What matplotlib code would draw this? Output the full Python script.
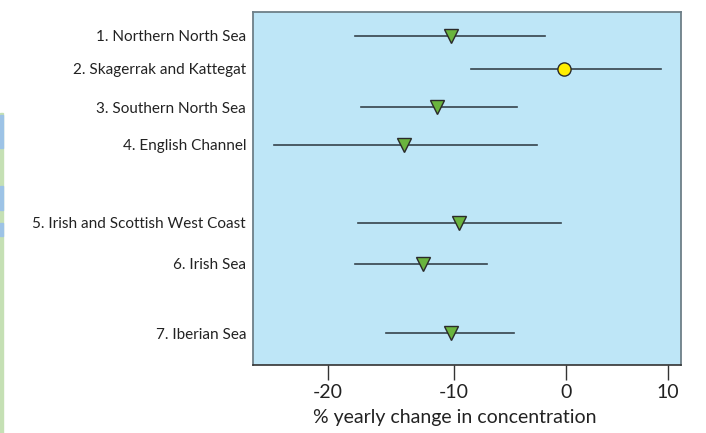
import numpy as np
import matplotlib.pyplot as plt
from matplotlib.patches import Rectangle

plt.rcParams['font.family'] = ['Lato', 'DejaVu Sans']

regions = ["1. Northern North Sea", "2. Skagerrak and Kattegat", "3. Southern North Sea",
           "4. English Channel", "5. Irish and Scottish West Coast", "6. Irish Sea",
           "7. Iberian Sea"]
change = [-10.2, -0.2, -11.4, -14.1, -9.5, -12.5, -10.2]
low = [-17.9, -8.5, -17.5, -23.9, -17.7, -17.9, -15.5]
high = [-2.0, 9.3, -4.5, -2.7, -0.5, -7.1, -4.8]
significant = [True, False, True, True, True, True, True]
# row positions (groups separated by gaps)
row_pos = [0.63, 1.51, 2.52, 3.52, 5.59, 6.68, 8.52]

fig = plt.figure(figsize=(7.06, 4.33), dpi=100)
ax = fig.add_axes([253 / 706, 1 - 365 / 433, 428 / 706, 353 / 433])
ax.set_facecolor("#bee6f7")

# axis is on a log-ratio scale
ax.set_xscale("function", functions=(lambda x: np.log1p(np.asarray(x) / 100.0),
                                     lambda y: 100.0 * np.expm1(y)))

for y, c, lo, hi, sig in zip(row_pos, change, low, high, significant):
    ax.plot([lo, hi], [y, y], color="#36434c", lw=1.2, zorder=2)
    if sig:
        ax.plot(c, y, marker="v", ms=10.5, mfc="#6ab43e", mec="#2a2a2a", mew=1.0, zorder=3)
    else:
        ax.plot(c, y, marker="o", ms=9.5, mfc="#ffee00", mec="#2a2a2a", mew=1.0, zorder=3)

ax.set_xlim(-25.4, 11.35)
ax.set_ylim(9.36, 0)
ax.set_xticks([-20, -10, 0, 10])
ax.set_xticklabels(["-20", "-10", "0", "10"])
ax.set_yticks(row_pos)
ax.set_yticklabels(regions, fontsize=11, color="#222222")
ax.tick_params(axis="y", length=0, pad=5)
ax.tick_params(axis="x", direction="out", length=11, width=1.0, color="#333333",
               labelsize=14, labelcolor="#222222", pad=3)
ax.set_xlabel("% yearly change in concentration", fontsize=14, color="#222222")
ax.xaxis.set_label_coords(0.471, -0.125)

for side in ["left", "right", "top"]:
    ax.spines[side].set_color("#6e7f88")
    ax.spines[side].set_linewidth(1.3)
ax.spines["bottom"].set_color("#333333")
ax.spines["bottom"].set_linewidth(1.2)

# cropped strip at the left edge of the image
fig.patches.append(Rectangle((0, 0), 3 / 706, 320 / 433, transform=fig.transFigure,
                             color="#c5e0b4", zorder=0))
for y0, y1 in [(115, 148), (186, 210), (223, 236)]:
    fig.patches.append(Rectangle((0, 1 - y1 / 433), 3 / 706, (y1 - y0) / 433,
                                 transform=fig.transFigure, color="#9dc3e6", zorder=1))

fig.savefig("out.png", dpi=100)
